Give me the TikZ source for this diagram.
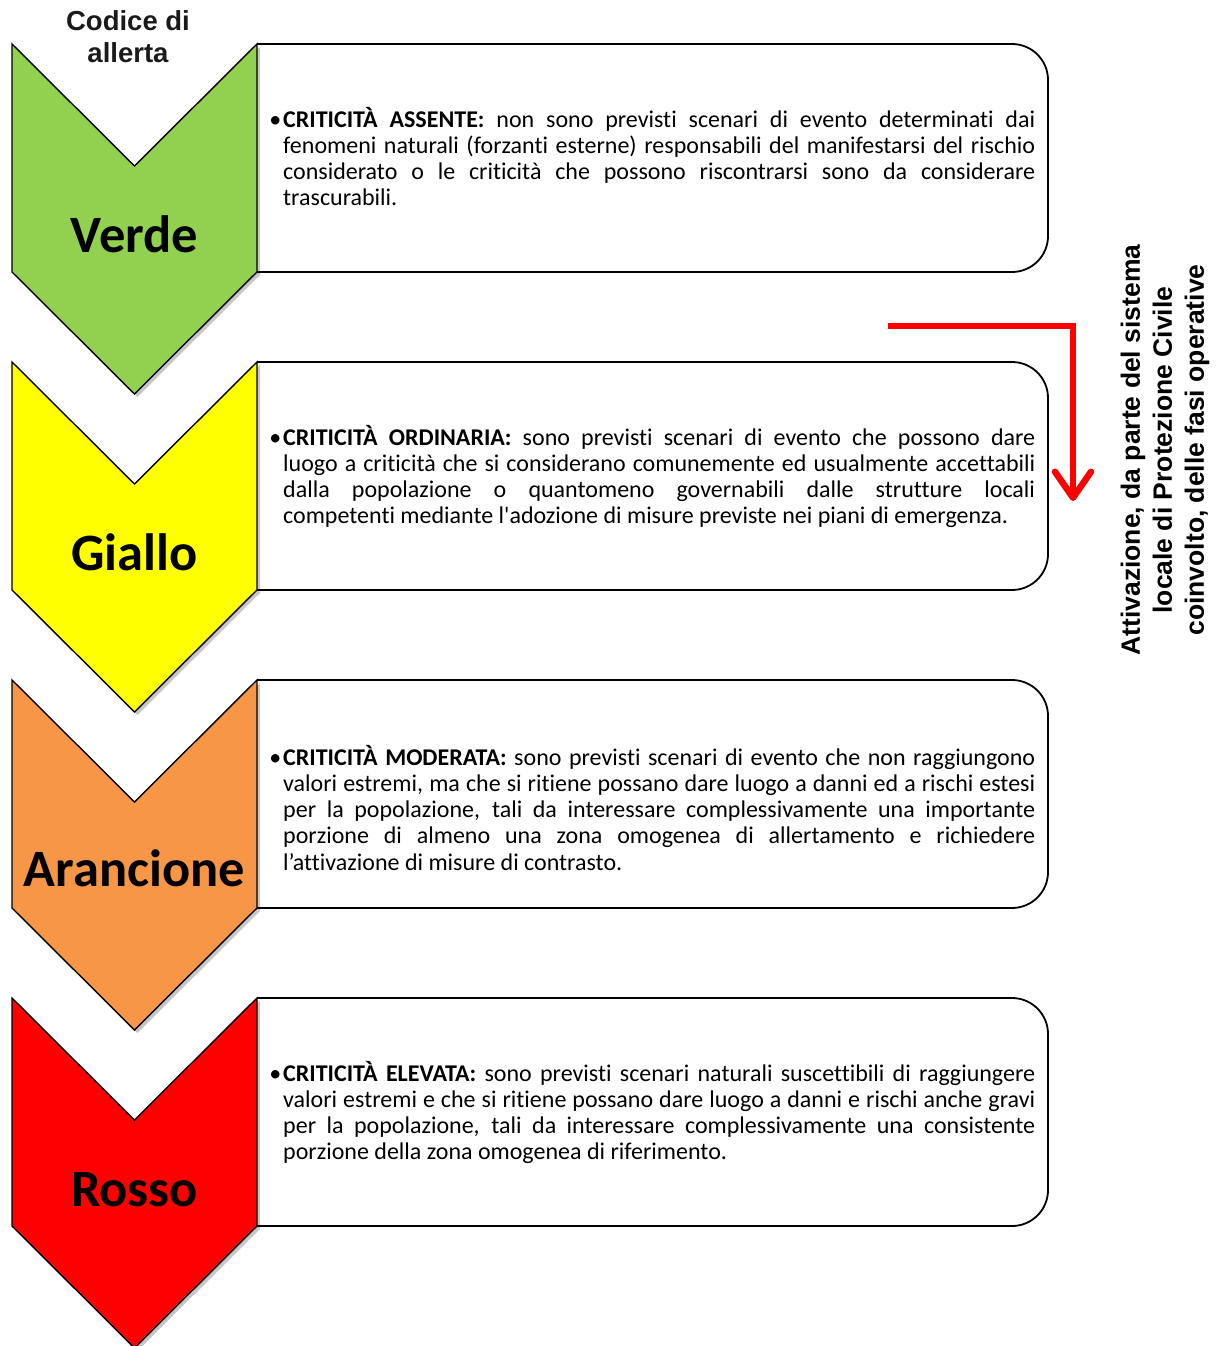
\documentclass[tikz,border=0pt]{standalone}
\usepackage{fontspec}
\setmainfont{Carlito}
\newfontfamily\boxfont{Carlito}[Ligatures={TeXOff,NoCommon}]
\newfontfamily\arialb{Liberation Sans}[BoldFont={Liberation Sans Bold}]
\usetikzlibrary{arrows.meta}
\definecolor{cverde}{HTML}{92D050}
\definecolor{cgiallo}{HTML}{FFFF00}
\definecolor{carancio}{HTML}{F79646}
\definecolor{crosso}{HTML}{FF0000}
\definecolor{cdark}{HTML}{1A1A1A}
\newcommand{\chevpath}[1]{(12,44+#1) -- (134.5,166+#1) -- (257,44+#1) -- (257,272+#1) -- (134.5,394+#1) -- (12,272+#1) -- cycle}
\newcommand{\descpar}[1]{\parbox[t]{752pt}{\hyphenpenalty=10000\tolerance=10000\rightskip=0pt\parfillskip=0pt plus 1fil\noindent\llap{•\kern2pt}#1}}
\begin{document}
\begin{tikzpicture}[x=1pt,y=-1pt,
  chev/.style={draw=black, line width=1.4pt, line join=miter},
  chevshadow/.style={fill=black, opacity=0.22},
  cbox/.style={draw=black, line width=1.8pt, fill=white, rounded corners=36pt},
  lbl/.style={anchor=base, inner sep=0pt, font=\bfseries\fontsize{52.5}{60}\selectfont},
  desc/.style={anchor=base west, inner sep=0pt, font=\boxfont\fontsize{24}{26.3}\selectfont},
  sidetext/.style={rotate=90, align=center, inner sep=0pt, font=\arialb\bfseries\fontsize{26.5}{32}\selectfont},
  redarrow/.style={draw=crosso, line width=6.5pt, -{Straight Barb[length=26pt,width=36pt,round]}}
]
\useasboundingbox (0,0) rectangle (1219,1346);

% boxes
\foreach \d in {0,318,636,954}{
  \draw[cbox] (257,44+\d) -- (1048,44+\d) -- (1048,272+\d) -- (257,272+\d);
}

% chevrons
\foreach \d/\c in {0/cverde,318/cgiallo,636/carancio,954/crosso}{
  \fill[chevshadow] [shift={(3,3)}] \chevpath{\d};
  \draw[chev, fill=\c] \chevpath{\d};
}

% labels
\node[lbl] (verde) at (134.5,252) {Verde};
\node[lbl] (giallo) at (134.5,570) {Giallo};
\node[lbl] (arancione) at (134.5,886) {Arancione};
\node[lbl] (rosso) at (134.5,1206) {Rosso};

\node[align=center, inner sep=0pt, text=cdark, font=\arialb\bfseries\fontsize{27.5}{32}\selectfont] (codice) at (128,37) {Codice di\\allerta};

% descriptions
\node[desc] (d1) at (283,127) {\descpar{\textbf{CRITICITÀ ASSENTE:} non sono previsti scenari di evento determinati dai\linebreak fenomeni naturali (forzanti esterne) responsabili del manifestarsi del rischio\linebreak considerato o le criticità che possono riscontrarsi sono da considerare\linebreak trascurabili.}};
\node[desc] (d2) at (283,445) {\descpar{\textbf{CRITICITÀ ORDINARIA:} sono previsti scenari di evento che possono dare\linebreak luogo a criticità che si considerano comunemente ed usualmente accettabili\linebreak dalla popolazione o quantomeno governabili dalle strutture locali\linebreak competenti mediante l'adozione di misure previste nei piani di emergenza.}};
\node[desc] (d3) at (283,765) {\descpar{\textbf{CRITICITÀ MODERATA:} sono previsti scenari di evento che non raggiungono\linebreak valori estremi, ma che si ritiene possano dare luogo a danni ed a rischi estesi\linebreak per la popolazione, tali da interessare complessivamente una importante\linebreak porzione di almeno una zona omogenea di allertamento e richiedere\linebreak l’attivazione di misure di contrasto.}};
\node[desc] (d4) at (283,1081) {\descpar{\textbf{CRITICITÀ ELEVATA:} sono previsti scenari naturali suscettibili di raggiungere\linebreak valori estremi e che si ritiene possano dare luogo a danni e rischi anche gravi\linebreak per la popolazione, tali da interessare complessivamente una consistente\linebreak porzione della zona omogenea di riferimento.}};

% side text
\node[sidetext] (side) at (1165,450) {Attivazione, da parte del sistema\\locale di Protezione Civile\\coinvolto, delle fasi operative};

% red arrow
\coordinate (a0) at (888,326);
\coordinate (a1) at (1073,501);
\draw[redarrow] (a0) -| (a1);
\end{tikzpicture}
\end{document}
